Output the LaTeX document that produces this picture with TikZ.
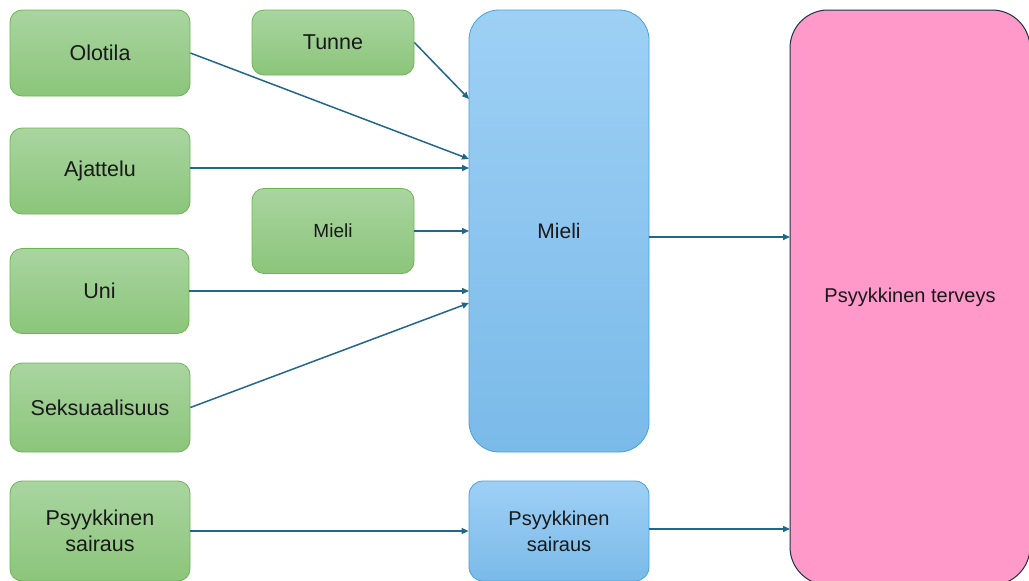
\documentclass[tikz,border=0pt]{standalone}
\usepackage{fontspec}
\setmainfont{Liberation Sans}
\usetikzlibrary{arrows.meta}

\definecolor{greenTop}{HTML}{A9D5A0}
\definecolor{greenBot}{HTML}{8BC57A}
\definecolor{greenLine}{HTML}{6DB552}
\definecolor{blueTop}{HTML}{9ED0F5}
\definecolor{blueBot}{HTML}{7ABAE9}
\definecolor{blueLine}{HTML}{45A2DA}
\definecolor{pinkFill}{HTML}{FF99C9}
\definecolor{pinkLine}{HTML}{1C3443}
\definecolor{arrowBlue}{HTML}{21678A}

\tikzset{
    greenbox/.style={draw=greenLine, line width=0.8pt, rounded corners=12pt, top color=greenTop, bottom color=greenBot,
        minimum width=180pt, minimum height=86pt, align=center, text=black!90, font=\fontsize{21.5}{26}\selectfont},
    bluebox/.style={draw=blueLine, line width=0.8pt, top color=blueTop, bottom color=blueBot,
        minimum width=180pt, align=center, text=black!90, font=\fontsize{21}{26}\selectfont},
    link/.style={-{Triangle[length=7pt, width=6pt]}, line width=1.5pt, arrowBlue},
}

\begin{document}
\begin{tikzpicture}[x=1pt, y=-1pt]
        \useasboundingbox (0,0) rectangle (1029,581);
        \clip (0,0) rectangle (1029,581);

        % left column
        \node[greenbox] (olotila) at (100,53) {Olotila};
        \node[greenbox] (ajattelu) at (100,171) {Ajattelu};
        \node[greenbox, minimum width=179pt, minimum height=85pt] (uni) at (99.5,291) {Uni};
        \node[greenbox, minimum height=89pt] (seksuaalisuus) at (100,407.5) {Seksuaalisuus};
        \node[greenbox, minimum height=100pt] (sairausA) at (100,531) {Psyykkinen\\sairaus};

        % middle column
        \node[greenbox, minimum width=162pt, minimum height=65pt] (tunne) at (333,42.5) {Tunne};
        \node[greenbox, minimum width=162pt, minimum height=85pt, font=\fontsize{19}{22}\selectfont] (mieliA) at (333,231) {Mieli};

        \node[bluebox, rounded corners=30pt, minimum height=442pt] (mieli) at (559,231) {Mieli};
        \node[bluebox, rounded corners=14pt, minimum height=100pt, font=\fontsize{20}{26}\selectfont] (sairausB) at (559,531) {Psyykkinen\\sairaus};

        \node[draw=pinkLine, fill=pinkFill, line width=1pt, rounded corners=38pt, minimum width=240pt, minimum height=575pt,
            text=black!90, font=\fontsize{20}{24}\selectfont] (terveys) at (910,297.5) {Psyykkinen terveys};

        % arrow ends
        \coordinate (inTunne) at (469,99);
        \coordinate (inOlotila) at (469,159);
        \coordinate (inAjattelu) at (469,168);
        \coordinate (inMieli) at (469,231);
        \coordinate (inUni) at (469,291);
        \coordinate (inSeks) at (469,303);
        \coordinate (pMieli) at (790,237);
        \coordinate (pSairaus) at (790,529);

        \draw[link] (tunne.east) -- (inTunne);
        \draw[link] (olotila.east) -- (inOlotila);
        \draw[link] (ajattelu.east |- inAjattelu) -- (inAjattelu);
        \draw[link] (mieliA.east) -- (inMieli);
        \draw[link] (uni.east) -- (inUni);
        \draw[link] (seksuaalisuus.east) -- (inSeks);
        \draw[link] (sairausA.east) -- (sairausB.west);

        \draw[link] (mieli.east |- pMieli) -- (pMieli);
        \draw[link] (sairausB.east |- pSairaus) -- (pSairaus);
\end{tikzpicture}
\end{document}
